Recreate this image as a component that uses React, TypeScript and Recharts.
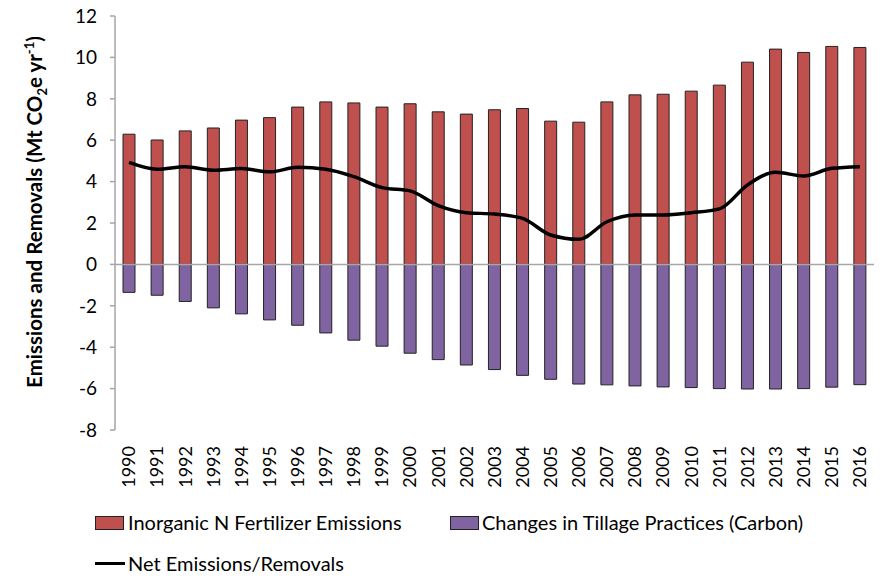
import { ComposedChart, Bar, Line, XAxis, YAxis, ReferenceLine, Legend, Label } from 'recharts';

const years = [
  '1990', '1991', '1992', '1993', '1994', '1995', '1996', '1997', '1998', '1999',
  '2000', '2001', '2002', '2003', '2004', '2005', '2006', '2007', '2008', '2009',
  '2010', '2011', '2012', '2013', '2014', '2015', '2016',
];

const fertilizer = [
  6.29, 6.01, 6.45, 6.59, 6.97, 7.09, 7.6, 7.85, 7.8, 7.6,
  7.76, 7.37, 7.26, 7.47, 7.53, 6.92, 6.87, 7.85, 8.19, 8.22,
  8.37, 8.66, 9.77, 10.4, 10.24, 10.53, 10.48,
];

const tillage = [
  -1.35, -1.49, -1.79, -2.1, -2.39, -2.68, -2.94, -3.31, -3.66, -3.95,
  -4.29, -4.6, -4.86, -5.08, -5.36, -5.55, -5.78, -5.82, -5.87, -5.92,
  -5.95, -6.0, -6.02, -6.02, -6.0, -5.93, -5.81,
];

const net = [
  4.93, 4.6, 4.72, 4.55, 4.63, 4.47, 4.69, 4.6, 4.24, 3.71,
  3.55, 2.84, 2.5, 2.43, 2.22, 1.42, 1.21, 2.06, 2.39, 2.39,
  2.5, 2.68, 3.84, 4.45, 4.27, 4.64, 4.72,
];

const yTicks = [-8, -6, -4, -2, 0, 2, 4, 6, 8, 10, 12];

const seriesNames = {
  fertilizer: 'Inorganic N Fertilizer Emissions',
  tillage: 'Changes in Tillage Practices (Carbon)',
  net: 'Net Emissions/Removals',
};

const RED = '#c0504d';
const PURPLE = '#8064a2';
const AXIS = '#a6a6a6';

const data = years.map((year, i) => ({
  year,
  fertilizer: fertilizer[i],
  tillage: tillage[i],
  net: net[i],
}));

const YearTick = ({ x, y, payload }: any) => (
  <text
    x={x}
    y={y}
    transform={`rotate(-90, ${x}, ${y})`}
    textAnchor="end"
    dy="0.35em"
    fontSize={18}
    fill="#000"
  >
    {payload.value}
  </text>
);

const YTitle = ({ viewBox }: any) => {
  const cx = viewBox.x - 10;
  const cy = viewBox.y + viewBox.height / 2 - 11;
  return (
    <text
      x={cx}
      y={cy}
      transform={`rotate(-90, ${cx}, ${cy})`}
      textAnchor="middle"
      dy="0.35em"
      fontSize={20.5}
      fontWeight="bold"
      fill="#000"
    >
      Emissions and Removals (Mt CO
      <tspan dy={5} fontSize={13}>2</tspan>
      <tspan dy={-5}>e yr</tspan>
      <tspan dy={-8} fontSize={13}>-1</tspan>
      <tspan dy={8}>)</tspan>
    </text>
  );
};

const swatch = (color: string) => ({
  position: 'absolute' as const,
  width: 29,
  height: 14,
  background: color,
  border: '1px solid #222',
  boxSizing: 'border-box' as const,
});

const LegendBox = () => (
  <div style={{ position: 'relative', width: 884, height: 577, fontSize: 20, color: '#000', lineHeight: '22px' }}>
    <div style={{ ...swatch(RED), left: 95, top: 516 }} />
    <div style={{ position: 'absolute', left: 128, top: 511 }}>{seriesNames.fertilizer}</div>
    <div style={{ ...swatch(PURPLE), left: 450, top: 516 }} />
    <div style={{ position: 'absolute', left: 482, top: 511 }}>{seriesNames.tillage}</div>
    <div style={{ position: 'absolute', left: 95, top: 562, width: 30, height: 3, background: '#000' }} />
    <div style={{ position: 'absolute', left: 128, top: 552 }}>{seriesNames.net}</div>
  </div>
);

export default function App() {
  return (
    <div style={{ position: 'absolute', left: 0, top: 0, fontFamily: 'Lato', background: '#fff' }}>
      <ComposedChart
        width={884}
        height={577}
        data={data}
        stackOffset="sign"
        margin={{ top: 16, right: 10, left: 45, bottom: 87 }}
      >
        <XAxis
          dataKey="year"
          axisLine={false}
          tickLine={false}
          tickSize={6}
          tickMargin={10}
          height={60}
          interval={0}
          tick={<YearTick />}
        />
        <YAxis
          domain={[-8, 12]}
          ticks={yTicks}
          width={70}
          interval={0}
          axisLine={{ stroke: AXIS, strokeWidth: 1.5 }}
          tickLine={{ stroke: AXIS, strokeWidth: 1.5 }}
          tickSize={5}
          tickMargin={13}
          tick={{ fill: '#000', fontSize: 19 }}
        >
          <Label content={<YTitle />} />
        </YAxis>
        <Bar
          dataKey="fertilizer"
          name={seriesNames.fertilizer}
          stackId="a"
          fill={RED}
          stroke="#222"
          strokeWidth={1}
          barSize={12}
          isAnimationActive={false}
        />
        <Bar
          dataKey="tillage"
          name={seriesNames.tillage}
          stackId="a"
          fill={PURPLE}
          stroke="#222"
          strokeWidth={1}
          barSize={12}
          isAnimationActive={false}
        />
        <ReferenceLine y={0} stroke={AXIS} strokeWidth={1.5} />
        <Line
          dataKey="net"
          name={seriesNames.net}
          type="monotone"
          stroke="#000"
          strokeWidth={3.5}
          dot={false}
          isAnimationActive={false}
        />
        <Legend
          layout="vertical"
          align="center"
          verticalAlign="middle"
          wrapperStyle={{ left: 0, top: 0, width: 884, height: 577, pointerEvents: 'none' }}
          content={<LegendBox />}
        />
      </ComposedChart>
    </div>
  );
}
